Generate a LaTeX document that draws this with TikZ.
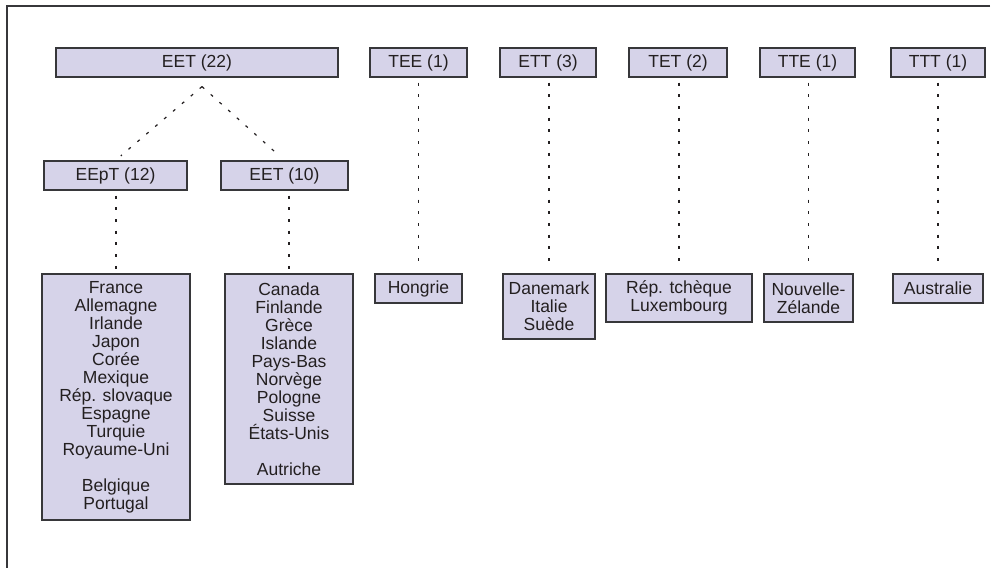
\documentclass[tikz,border=0pt]{standalone}
\usepackage{fontspec}
\setmainfont{Liberation Sans}
\definecolor{boxfill}{RGB}{214,211,233}
\definecolor{boxline}{RGB}{55,55,58}
\definecolor{ink}{RGB}{35,31,32}

\begin{document}
\begin{tikzpicture}[x=1pt, y=-1pt,
    box/.style={draw=boxline, line width=1.2pt, fill=boxfill, text=ink,
        inner sep=0pt, align=center, font=\fontsize{17.5}{18}\selectfont},
    link/.style={draw=ink, line width=1.2pt, dash pattern=on 3pt off 8.7pt,
        shorten <=5pt, shorten >=4pt}]
\useasboundingbox (0,0) rectangle (995,568);
% Frame, top and left sides only
    \draw[boxline, line width=1.3pt] (990,6) -- (7,6) -- (7,568);
% Top row
    \node[box, minimum width=282pt, minimum height=29pt] (eet) at (197,62.5) {EET (22)};
    \node[box, minimum width=97pt, minimum height=29pt] (tee) at (418.5,62.5) {TEE (1)};
    \node[box, minimum width=96pt, minimum height=29pt] (ett) at (548,62.5) {ETT (3)};
    \node[box, minimum width=98pt, minimum height=29pt] (tet) at (678,62.5) {TET (2)};
    \node[box, minimum width=95pt, minimum height=29pt] (tte) at (807.5,62.5) {TTE (1)};
    \node[box, minimum width=94pt, minimum height=29pt] (ttt) at (938,62.5) {TTT (1)};
% Split of EET
    \node[box, minimum width=143pt, minimum height=29pt] (eept) at (115.5,175.5) {EEpT (12)};
    \node[box, minimum width=127pt, minimum height=29pt] (eetb) at (284.5,175.5) {EET (10)};
% Country lists
    \node[box, minimum width=148pt, minimum height=246pt] (eeptlist) at (116,397)
        {France\\Allemagne\\Irlande\\Japon\\Corée\\Mexique\\Rép. slovaque\\Espagne\\Turquie\\Royaume-Uni\\[18pt]Belgique\\Portugal};
    \node[box, minimum width=128pt, minimum height=210pt] (eetlist) at (289,379)
        {Canada\\Finlande\\Grèce\\Islande\\Pays-Bas\\Norvège\\Pologne\\Suisse\\États-Unis\\[18pt]Autriche};
    \node[box, minimum width=87pt, minimum height=29pt] (teelist) at (418.5,288.5) {Hongrie};
    \node[box, minimum width=92pt, minimum height=65pt] (ettlist) at (549,306.5) {Danemark\\Italie\\Suède};
    \node[box, minimum width=146pt, minimum height=48pt] (tetlist) at (679,298) {Rép. tchèque\\Luxembourg};
    \node[box, minimum width=89pt, minimum height=48pt] (ttelist) at (808.5,298) {Nouvelle-\\Zélande};
    \node[box, minimum width=90pt, minimum height=29pt] (tttlist) at (938,288.5) {Australie};
% Dotted links
    \coordinate (fork) at ([xshift=5pt, yshift=-9pt]eet.south);
    \draw[link, shorten <=0pt, shorten >=7pt] (fork) -- (eept.north);
    \draw[link, shorten <=0pt, shorten >=7pt] (fork) -- (eetb.north);
    \draw[link] (eeptlist.north |- eept.south) -- (eeptlist.north);
    \draw[link] (eetlist.north |- eetb.south) -- (eetlist.north);
    \draw[link] (teelist.north |- tee.south) -- (teelist.north);
    \draw[link] (ettlist.north |- ett.south) -- (ettlist.north);
    \draw[link] (tetlist.north |- tet.south) -- (tetlist.north);
    \draw[link] (ttelist.north |- tte.south) -- (ttelist.north);
    \draw[link] (tttlist.north |- ttt.south) -- (tttlist.north);
\end{tikzpicture}
\end{document}
